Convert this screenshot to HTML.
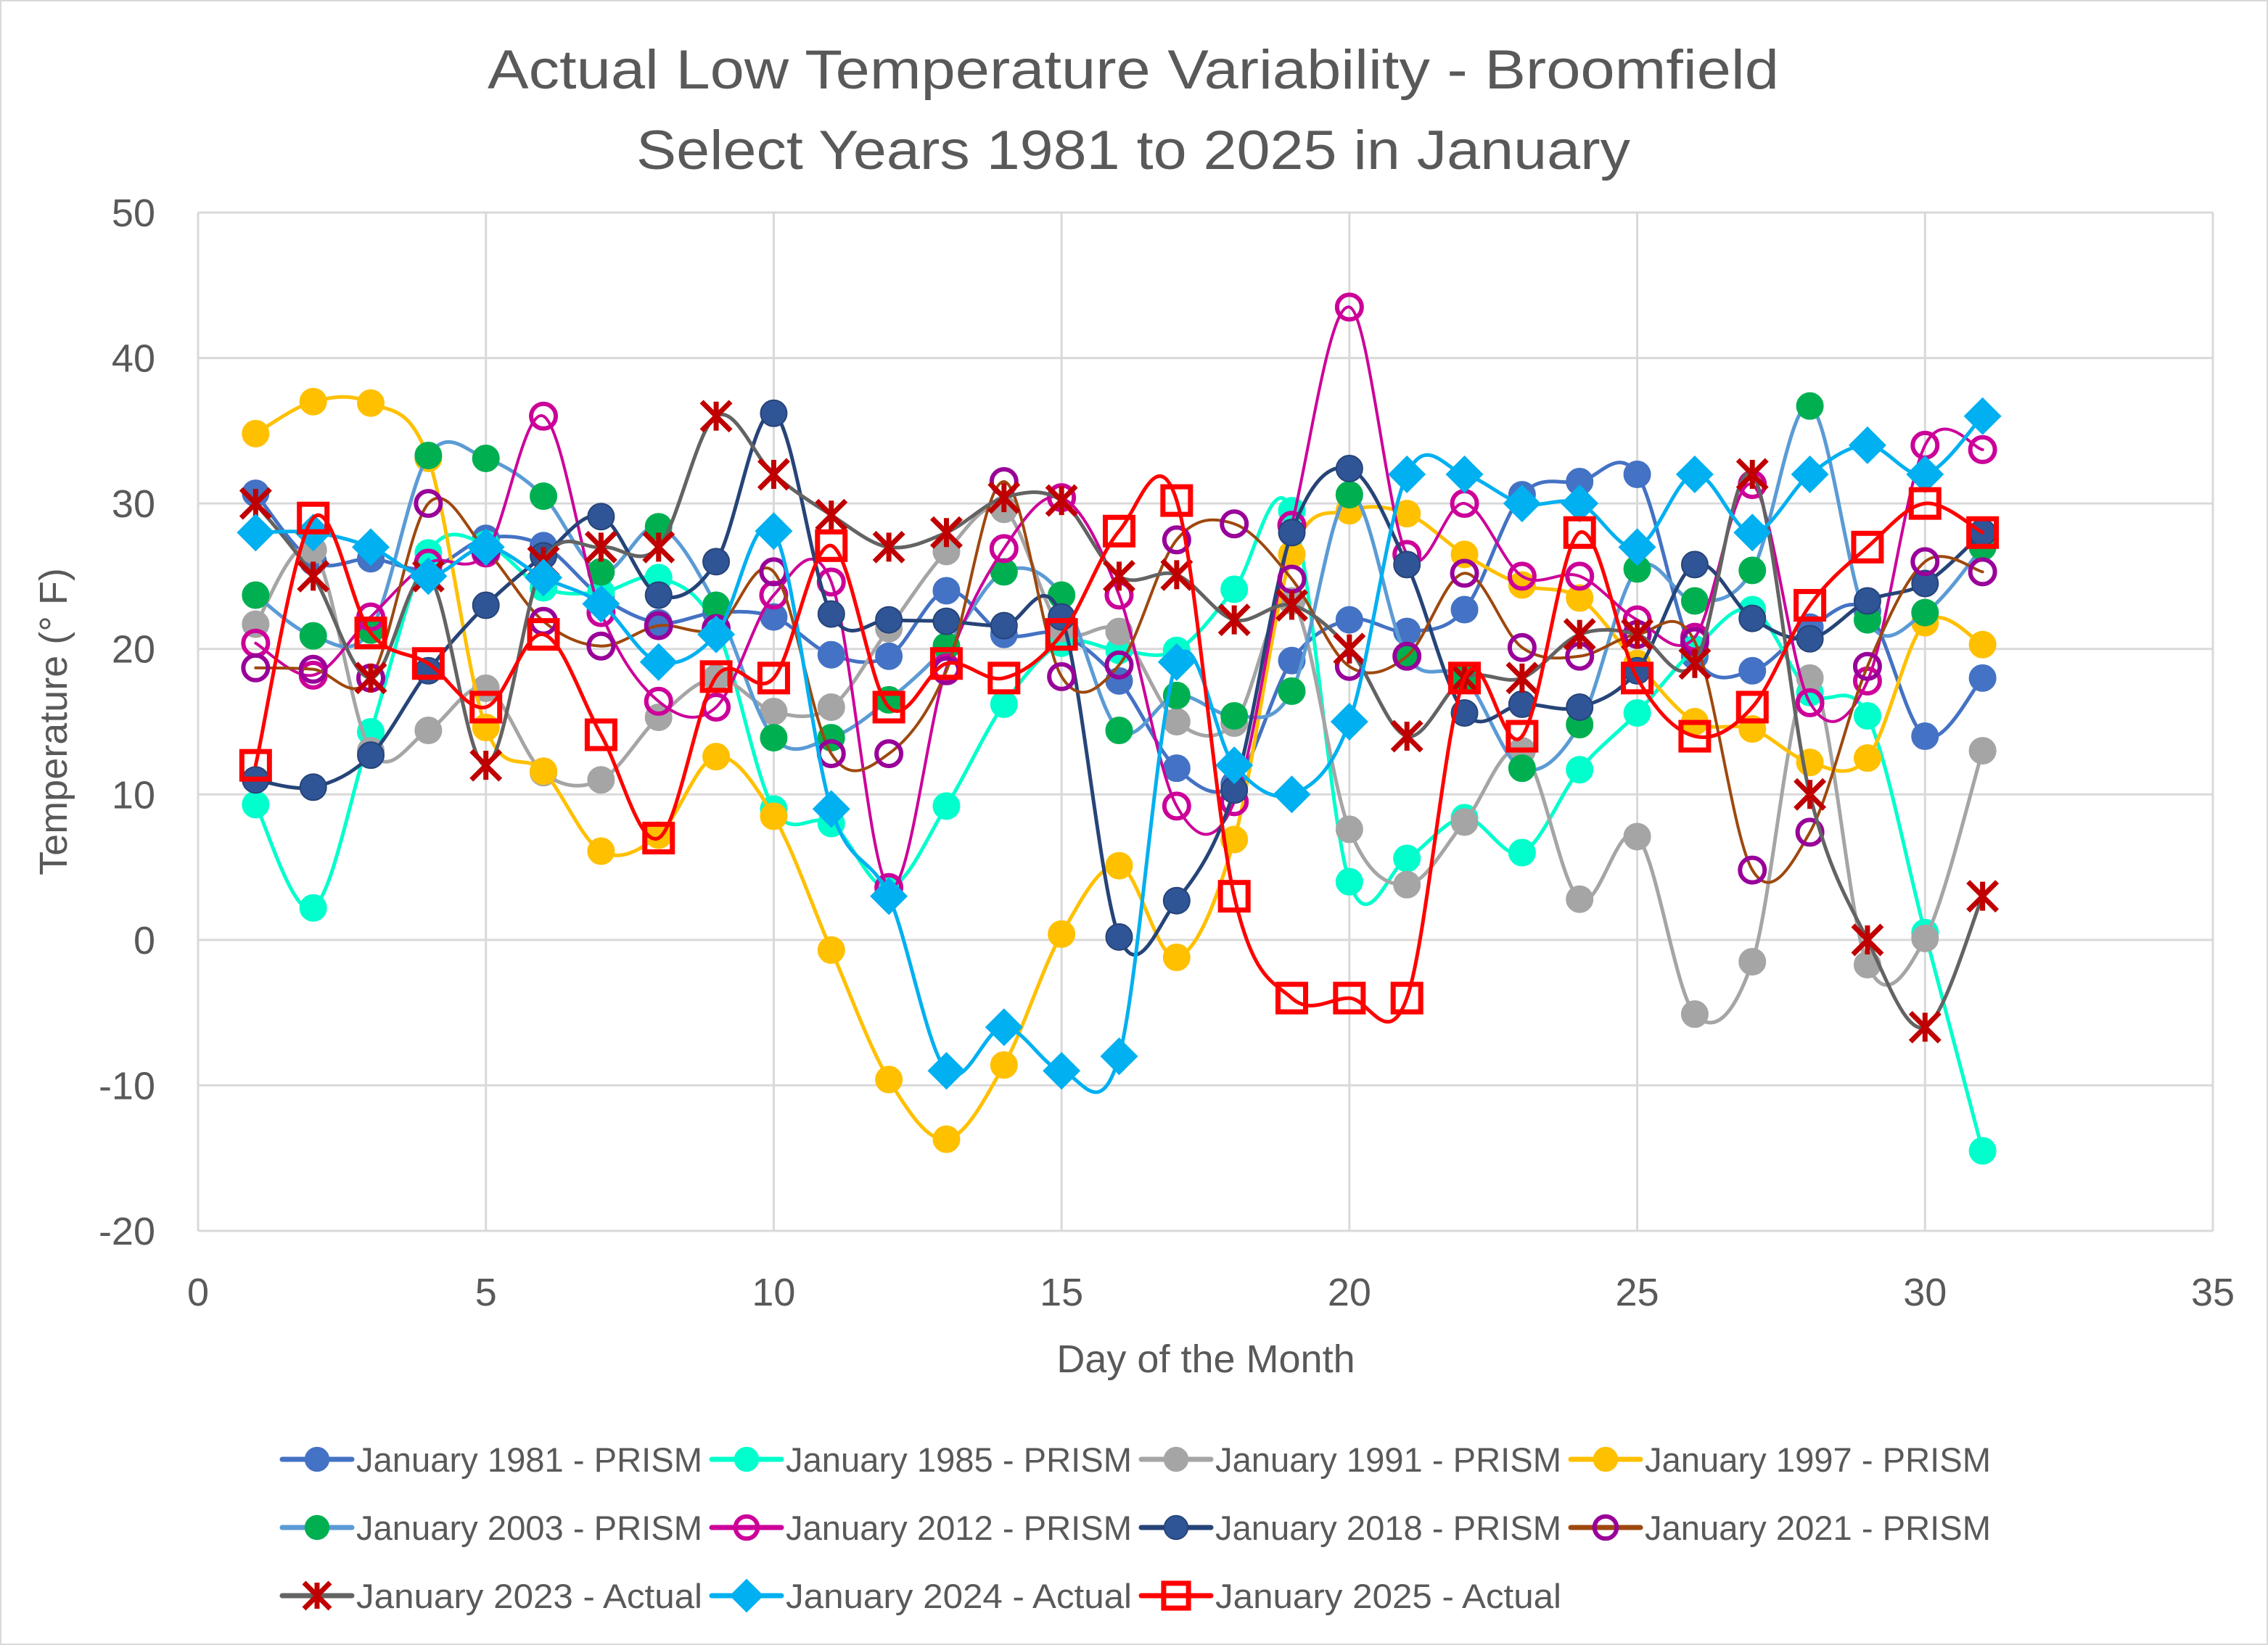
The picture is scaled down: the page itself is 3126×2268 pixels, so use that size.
<!DOCTYPE html>
<html><head><meta charset="utf-8"><style>
html,body{margin:0;padding:0;background:#fff;}
svg{display:block;font-family:"Liberation Sans",sans-serif;}
</style></head><body>
<svg id="chart" width="3126" height="2268" viewBox="0 0 3126 2268" xmlns="http://www.w3.org/2000/svg">
<rect x="1" y="1" width="3124" height="2266" fill="#fff" stroke="#d9d9d9" stroke-width="2"/>
<text x="1562" y="122" text-anchor="middle" font-size="76" fill="#595959" textLength="1780" lengthAdjust="spacingAndGlyphs">Actual Low Temperature Variability - Broomfield</text>
<text x="1562" y="233" text-anchor="middle" font-size="76" fill="#595959" textLength="1370" lengthAdjust="spacingAndGlyphs">Select Years 1981 to 2025  in January</text>
<g id="grid"></g>
<g id="series"></g>
<g id="axes"></g>
<text x="0" y="0" transform="translate(92,995) rotate(-90)" text-anchor="middle" font-size="54" fill="#595959">Temperature (° F)</text>
<text x="1662" y="1892" text-anchor="middle" font-size="54" fill="#595959">Day of the Month</text>
<g id="legend"></g>
</svg>
<script>
const days = [1,2,3,4,5,6,7,8,9,10,11,12,13,14,15,16,17,18,19,20,21,22,23,24,25,26,27,28,29,30,31];
const xTicks = [0,5,10,15,20,25,30,35];
const yTicks = [-20,-10,0,10,20,30,40,50];
const seriesNames = ["January 1981 - PRISM","January 1985 - PRISM","January 1991 - PRISM","January 1997 - PRISM","January 2003 - PRISM","January 2012 - PRISM","January 2018 - PRISM","January 2021 - PRISM","January 2023 - Actual","January 2024 - Actual","January 2025 - Actual"];
const v1981 = [30.7,26,26.2,25.5,27.6,27.1,23.6,21.8,22.5,22.2,19.6,19.5,24,21,21,17.8,11.8,10.7,19.2,22,21.2,22.7,30.6,31.5,32,19.5,18.5,21.5,22.6,14,18];
const v1985 = [9.3,2.2,14.3,26.6,27.2,24.2,23.9,24.9,21.5,9,8,3.6,9.2,16.2,20.4,19.9,19.9,24.1,29.5,4,5.6,8.4,6,11.7,15.6,20,22.7,17,15.4,0.5,-14.5];
const v1991 = [21.7,26.8,13,14.4,17.3,11.5,11,15.3,18,15.7,16,21.4,26.7,29.6,21.4,21.2,15,14.9,23.3,7.6,3.8,8.1,13,2.8,7.1,-5.1,-1.5,18,-1.7,0.1,13];
const v1997 = [34.8,37,36.9,33.1,14.6,11.6,6.1,7.2,12.6,8.5,-0.7,-9.6,-13.7,-8.6,0.4,5.1,-1.2,6.9,26.5,29.5,29.3,26.5,24.4,23.5,19,15,14.5,12.2,12.5,21.8,20.3];
const v2003 = [23.7,20.9,21.3,33.3,33.1,30.5,25.3,28.4,23,13.9,13.9,16.5,20.2,25.3,23.7,14.4,16.8,15.4,17.1,30.6,19.5,18,11.8,14.8,25.5,23.3,25.4,36.7,22,22.5,27];
const v2012 = [20.4,18.2,22.2,25.9,26.6,36,22.5,16.4,16,23.7,24.6,3.6,18.7,26.9,30.4,23.7,9.2,9.5,28.5,43.5,26.5,30,25,25,22,20.8,31.3,16.3,17.8,34,33.7];
const v2018 = [11,10.5,12.7,18.5,23,26.4,29.1,23.7,26,36.2,22.4,22,21.9,21.6,22.2,0.2,2.7,10.3,28,32.4,25.8,15.6,16.2,16,18.5,25.8,22.1,20.7,23.3,24.5,28];
const v2021 = [18.7,18.6,18,30,26.8,21.9,20.2,21.6,21.4,25.3,12.8,12.8,18.5,31.5,18.1,18.9,27.5,28.6,24.8,18.8,19.5,25.2,20.1,19.5,21,20.5,4.8,7.4,18.8,26,25.3];
const v2023 = [30,25,18,25,12,26,27,27,36,32,29.2,27,28,30.4,30.2,25,25.1,22,23,20,14,18,18,21,21,19,32,10,0,-6,3];
const v2024 = [28,28,27,25,27,24.9,23.1,19.1,21,28.1,9,3,-9,-6,-9,-8,19.1,12,10,15,32,32,30,30,27,32,28,32,34,32,36];
const v2025 = [12,29,21.1,19,16,21,14.1,7,18.1,18,27.1,16,19,18,21,28.1,30.2,3,-4,-4,-4,18,14,28,18,14,16,23,27,30,28];
const seriesValues = [v1981,v1985,v1991,v1997,v2003,v2012,v2018,v2021,v2023,v2024,v2025];

const styles = [
 {line:"#4472C4",w:5,m:"circle",fill:"#4472C4",stroke:"#4472C4"},
 {line:"#00FFCC",w:5,m:"circle",fill:"#00FFCC",stroke:"#00FFCC"},
 {line:"#A5A5A5",w:5,m:"circle",fill:"#A5A5A5",stroke:"#A5A5A5"},
 {line:"#FFC000",w:5,m:"circle",fill:"#FFC000",stroke:"#FFC000"},
 {line:"#5B9BD5",w:5,m:"circle",fill:"#00B050",stroke:"#00B050"},
 {line:"#CC0099",w:4,m:"ring",fill:"none",stroke:"#CC0099"},
 {line:"#264478",w:5,m:"circle",fill:"#2F5597",stroke:"#264478"},
 {line:"#9E480E",w:4,m:"ring",fill:"none",stroke:"#990099"},
 {line:"#636363",w:5,m:"x",fill:"#C00000",stroke:"#C00000"},
 {line:"#00B0F0",w:5,m:"diamond",fill:"#00B0F0",stroke:"#00B0F0"},
 {line:"#FF0000",w:5,m:"square",fill:"none",stroke:"#FF0000"}
];
const NS="http://www.w3.org/2000/svg";
const L=273,R=3050,T=293,B=1697;
function xs(v){return L+(v-0)/(35-0)*(R-L);}
function ys(v){return B-(v-(-20))/(50-(-20))*(B-T);}
function mk(tag,attrs,parent){const e=document.createElementNS(NS,tag);for(const k in attrs)e.setAttribute(k,attrs[k]);parent.appendChild(e);return e;}

const grid=document.getElementById('grid');
const axes=document.getElementById('axes');
yTicks.forEach(t=>{
  const gl=mk('line',{x1:L,x2:R,y1:ys(t),y2:ys(t),stroke:'#d9d9d9','stroke-width':3},grid);
  
  
  const tx=mk('text',{x:214,y:ys(t)+19,'text-anchor':'end','font-size':54,fill:'#595959'},axes);
  tx.textContent=t;
  
  
});
xTicks.forEach(t=>{
  const gl=mk('line',{x1:xs(t),x2:xs(t),y1:T,y2:B,stroke:'#d9d9d9','stroke-width':3},grid);
  
  
  const tx=mk('text',{x:xs(t),y:1800,'text-anchor':'middle','font-size':54,fill:'#595959'},axes);
  tx.textContent=t;
  
  
});

function smoothPath(pts){
  let d=`M${pts[0][0]},${pts[0][1]}`;
  for(let i=0;i<pts.length-1;i++){
    const p0=pts[i-1]||pts[i],p1=pts[i],p2=pts[i+1],p3=pts[i+2]||pts[i+1];
    const c1=[p1[0]+(p2[0]-p0[0])/6,p1[1]+(p2[1]-p0[1])/6];
    const c2=[p2[0]-(p3[0]-p1[0])/6,p2[1]-(p3[1]-p1[1])/6];
    d+=` C${c1[0]},${c1[1]} ${c2[0]},${c2[1]} ${p2[0]},${p2[1]}`;
  }
  return d;
}
function marker(g,st,x,y,scale){
  const s=scale||1;let e;
  if(st.m==='circle'){e=mk('ellipse',{cx:x,cy:y,rx:18*s,ry:18*s,fill:st.fill,stroke:st.stroke,'stroke-width':2},g);}
  else if(st.m==='ring'){e=mk('circle',{cx:x,cy:y,r:17*s,fill:'none',stroke:st.stroke,'stroke-width':6},g);}
  else if(st.m==='square'){e=mk('rect',{x:x-19*s,y:y-19*s,width:38*s,height:38*s,fill:'none',stroke:st.stroke,'stroke-width':7},g);}
  else if(st.m==='diamond'){const h=26*s;e=mk('polygon',{points:`${x},${y-h} ${x+h},${y} ${x},${y+h} ${x-h},${y}`,fill:st.fill},g);}
  else {const h=20*s;e=mk('path',{d:`M${x-h},${y-h}L${x+h},${y+h}M${x+h},${y-h}L${x-h},${y+h}M${x},${y-h}L${x},${y+h}`,stroke:st.stroke,'stroke-width':7,fill:'none'},g);}
  return e;
}
const sg=document.getElementById('series');
seriesValues.forEach((vals,si)=>{
  const st=styles[si];
  const g=mk('g',{},sg);
  
  
  const pts=vals.map((v,i)=>[xs(days[i]),ys(v)]);
  const p=mk('path',{d:smoothPath(pts),fill:'none',stroke:st.line,'stroke-width':st.w,'stroke-linejoin':'round','stroke-linecap':'round'},g);
  
  
  pts.forEach(pt=>{
    const m=marker(g,st,pt[0],pt[1]);
    
    
  });
});
const lg=document.getElementById('legend');
const colX=[389,981,1573,2165],rowY=[2012,2106,2200];
seriesNames.forEach((n,i)=>{
  const cx=colX[i%4],cy=rowY[Math.floor(i/4)],st=styles[i];
  const g=mk('g',{},lg);
  
  
  mk('line',{x1:cx,x2:cx+96,y1:cy,y2:cy,stroke:st.line,'stroke-width':7,'stroke-linecap':'round'},g);
  marker(g,st,cx+48,cy,0.9);
  const t=mk('text',{x:cx+102,y:cy+17,'font-size':47,fill:'#595959',textLength:477,lengthAdjust:'spacingAndGlyphs'},g);
  t.textContent=n;
  
  
});
</script>
</body></html>
